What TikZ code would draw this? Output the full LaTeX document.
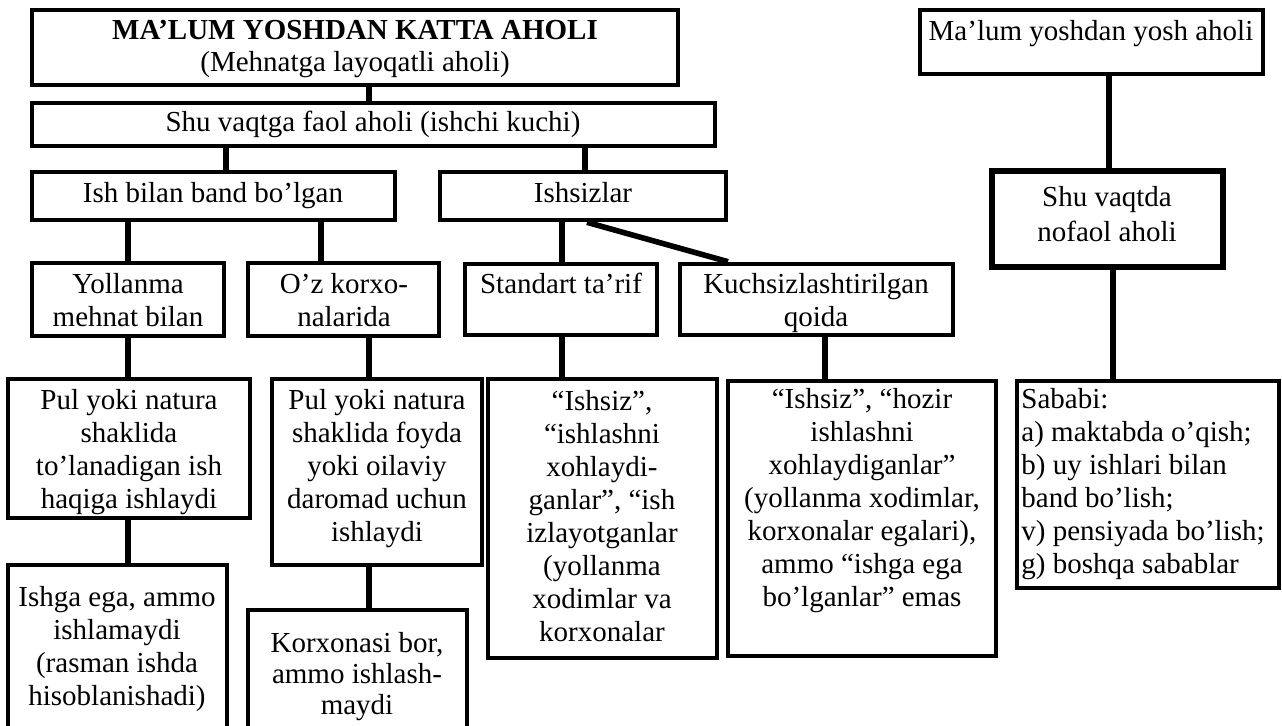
\documentclass[tikz,border=0pt]{standalone}
\usepackage{fontspec}
\setmainfont{Liberation Serif}
\usetikzlibrary{fit}
\newcommand{\mystrut}{\rule{0pt}{10.5pt}}
\begin{document}
\begin{tikzpicture}[x=0.5pt,y=-0.5pt,
  box/.style={draw=black, line width=2.3pt, inner sep=0pt},
  thickbox/.style={draw=black, line width=3.3pt, inner sep=0pt},
  conn/.style={draw=black, line width=2.8pt},
  txt/.style={anchor=north, inner sep=0pt, align=center, font=\fontsize{14.5pt}{16.5pt}\selectfont},
  ltxt/.style={anchor=north west, inner sep=0pt, align=left, font=\fontsize{14.5pt}{16.5pt}\selectfont}]
\clip (0,0) rectangle (1282,725);
\useasboundingbox (0,0) rectangle (1282,725);

% boxes
\node[box, fit={(32,10) (678,85)}] (b1) {};
\node[box, fit={(32,103) (715,146)}] (b2) {};
\node[box, fit={(32,172) (395,220)}] (b3) {};
\node[box, fit={(440,172) (726,220)}] (b4) {};
\node[box, fit={(32,263) (224,336)}] (b5) {};
\node[box, fit={(248,263) (439,336)}] (b6) {};
\node[box, fit={(465,264) (657,335)}] (b7) {};
\node[box, fit={(680,264) (953,335)}] (b8) {};
\node[box, fit={(8,379) (250,518)}] (b9) {};
\node[box, fit={(272,379) (482,565)}] (b10) {};
\node[box, fit={(488,379) (717,658)}] (b11) {};
\node[box, fit={(728,381) (996,656)}] (b12) {};
\node[box, fit={(1017,381) (1279,588)}] (b13) {};
\node[box, fit={(920,10) (1263,74)}] (b14) {};
\node[thickbox, fit={(992,171) (1223,267)}] (b15) {};
\node[box, fit={(8,565) (227,732)}] (b16) {};
\node[box, fit={(248,610) (467,732)}] (b17) {};

% texts
\node[txt, font=\fontsize{14.5pt}{16pt}\selectfont] (t1) at (355,18) {\mystrut\textbf{MA’LUM YOSHDAN KATTA AHOLI}\\(Mehnatga layoqatli aholi)};
\node[txt] (t2) at (373,110) {\mystrut Shu vaqtga faol aholi (ishchi kuchi)};
\node[txt] (t3) at (213,181) {\mystrut Ish bilan band bo’lgan};
\node[txt] (t4) at (583,181) {\mystrut Ishsizlar};
\node[txt] (t5) at (128,272) {\mystrut Yollanma\\mehnat bilan};
\node[txt] (t6) at (344,272) {\mystrut O’z korxo-\\nalarida};
\node[txt] (t7) at (561,272) {\mystrut Standart ta’rif};
\node[txt] (t8) at (816,272) {\mystrut Kuchsizlashtirilgan\\qoida};
\node[txt] (t9) at (129,388) {\mystrut Pul yoki natura\\shaklida\\to’lanadigan ish\\haqiga ishlaydi};
\node[txt] (t10) at (377,388) {\mystrut Pul yoki natura\\shaklida foyda\\yoki oilaviy\\daromad uchun\\ishlaydi};
\node[txt] (t11) at (602,389) {\mystrut “Ishsiz”,\\“ishlashni\\xohlaydi-\\ganlar”, “ish\\izlayotganlar\\(yollanma\\xodimlar va\\korxonalar};
\node[txt] (t12) at (862,387) {\mystrut “Ishsiz”, “hozir\\ishlashni\\xohlaydiganlar”\\(yollanma xodimlar,\\korxonalar egalari),\\ammo “ishga ega\\bo’lganlar” emas};
\node[ltxt] (t13) at (1021,387) {\mystrut Sababi:\\a) maktabda o’qish;\\b) uy ishlari bilan\\band bo’lish;\\v) pensiyada bo’lish;\\g) boshqa sabablar};
\node[txt] (t14) at (1091,19) {\mystrut Ma’lum yoshdan yosh aholi};
\node[txt, font=\fontsize{14.5pt}{17.5pt}\selectfont] (t15) at (1107,185) {\mystrut Shu vaqtda\\nofaol aholi};
\node[txt] (t16) at (117,585) {\mystrut Ishga ega, ammo\\ishlamaydi\\(rasman ishda\\hisoblanishadi)};
\node[txt, font=\fontsize{14.5pt}{15.5pt}\selectfont] (t17) at (357,631) {\mystrut Korxonasi bor,\\ammo ishlash-\\maydi};

% connectors
\draw[conn] (b1.south -| 369,0) -- (b2.north -| 369,0);
\draw[conn] (b2.south -| 226,0) -- (b3.north -| 226,0);
\draw[conn] (b2.south -| 585,0) -- (b4.north -| 585,0);
\draw[conn] (b3.south -| 128,0) -- (b5.north -| 128,0);
\draw[conn] (b3.south -| 321,0) -- (b6.north -| 321,0);
\draw[conn] (b4.south -| 562,0) -- (b7.north -| 562,0);
\draw[conn] (b4.south -| 587,0) -- (b8.north -| 728,0);
\draw[conn] (b5.south -| 128,0) -- (b9.north -| 128,0);
\draw[conn] (b6.south -| 369,0) -- (b10.north -| 369,0);
\draw[conn] (b7.south -| 562,0) -- (b11.north -| 562,0);
\draw[conn] (b8.south -| 825,0) -- (b12.north -| 825,0);
\draw[conn] (b9.south -| 128,0) -- (b16.north -| 128,0);
\draw[conn] (b10.south -| 369,0) -- (b17.north -| 369,0);
\draw[conn] (b14.south -| 1109,0) -- (b15.north -| 1109,0);
\draw[conn] (b15.south -| 1113,0) -- (b13.north -| 1113,0);
\end{tikzpicture}
\end{document}
